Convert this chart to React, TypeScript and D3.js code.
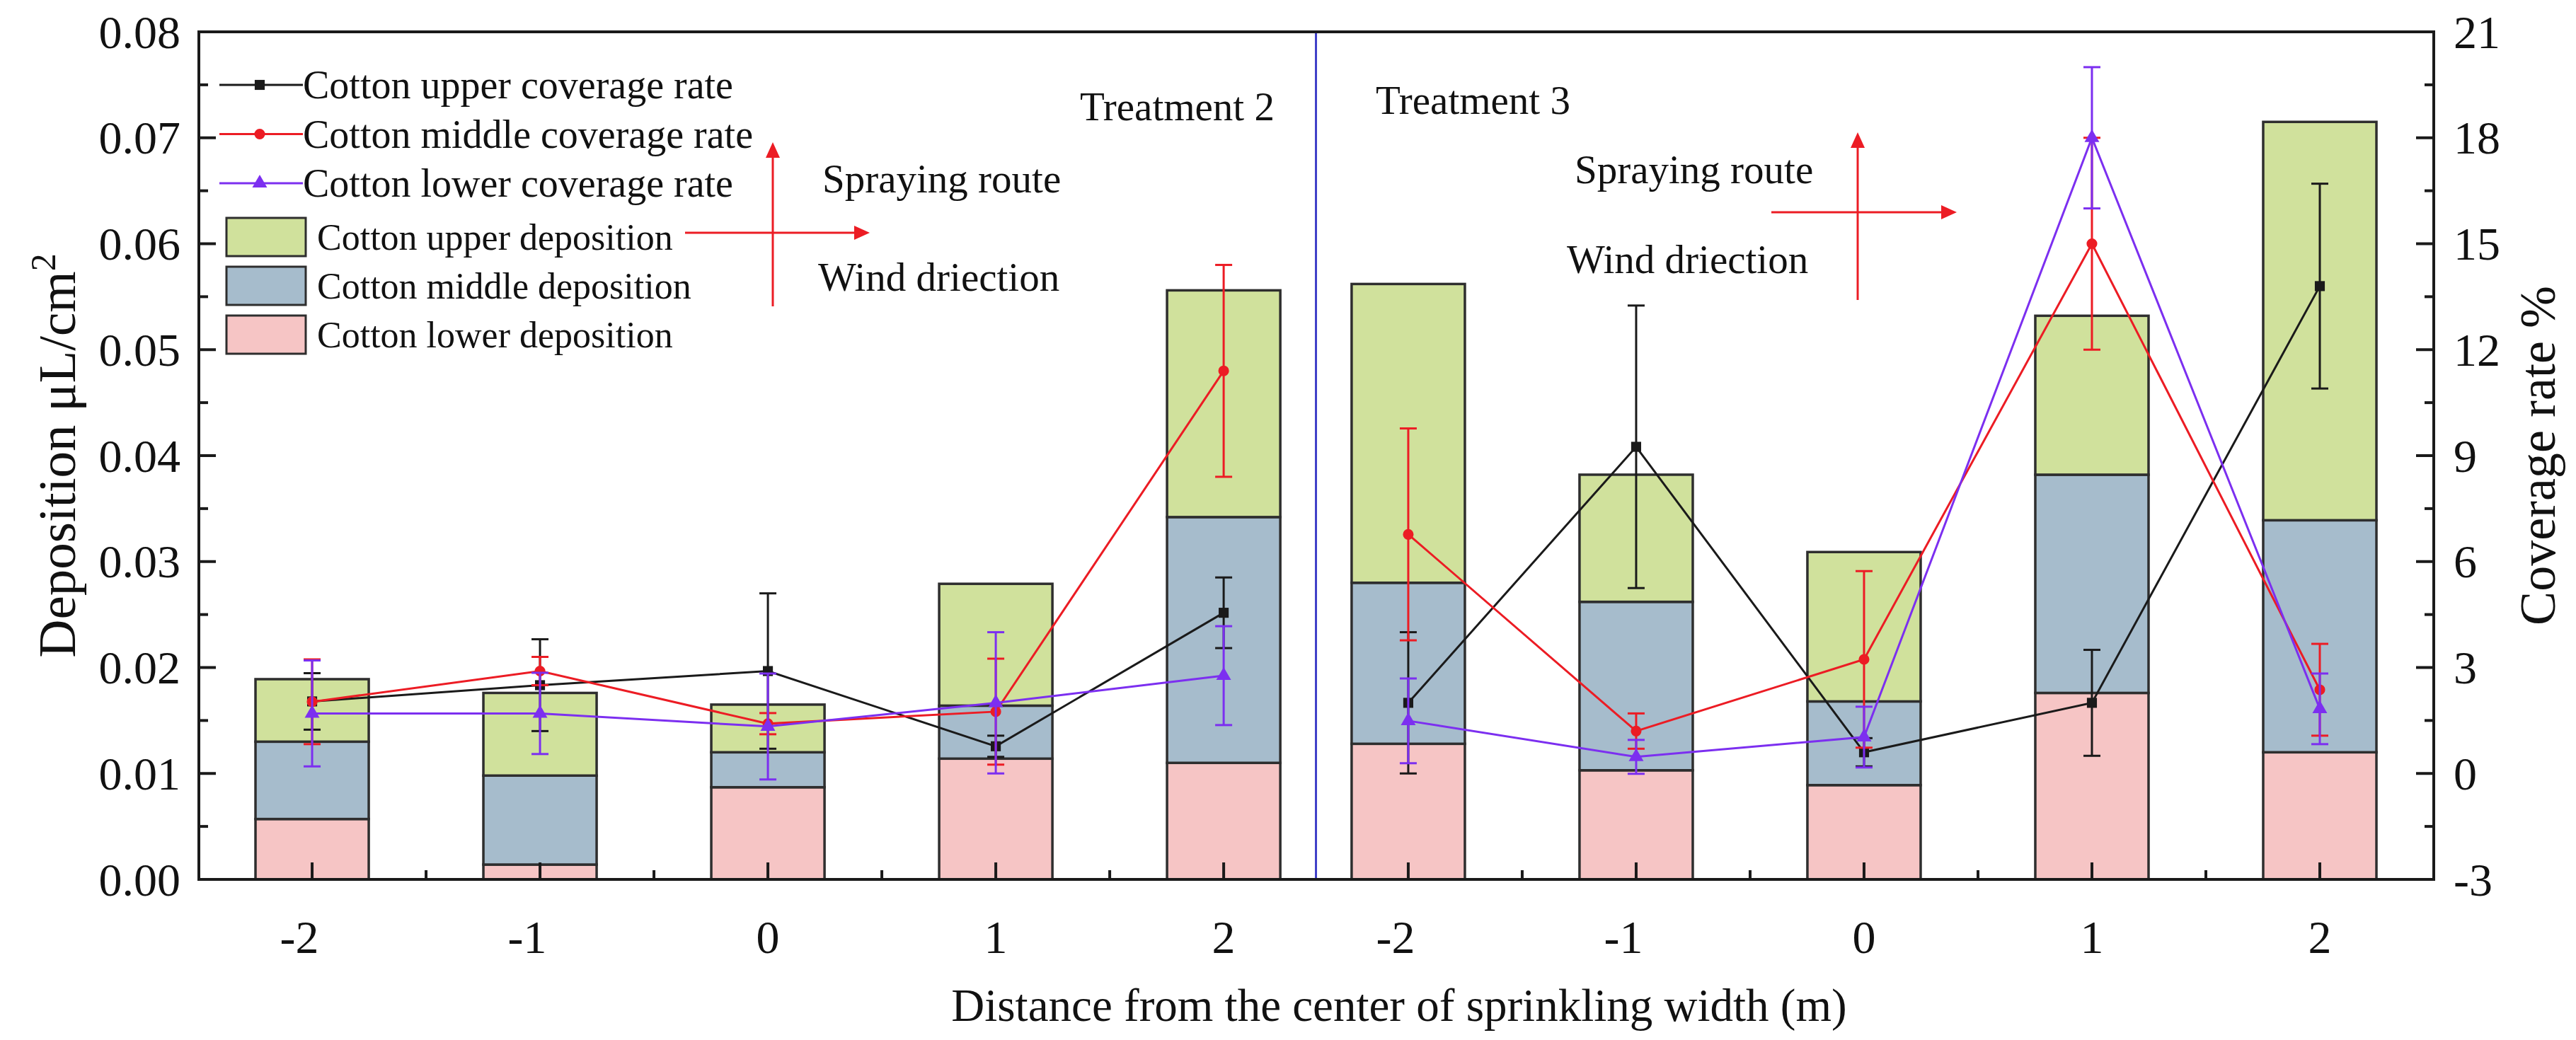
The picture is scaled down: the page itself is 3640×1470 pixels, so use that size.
import React from 'react';
import * as d3 from 'd3';

// ---------- data ----------
const categories = ['-2', '-1', '0', '1', '2'];
const treatments = ['Treatment 2', 'Treatment 3'];

// stacked deposition (µL/cm²), 10 bars: Treatment 2 (-2..2), Treatment 3 (-2..2)
const lowerDeposition = [0.0057, 0.0014, 0.0087, 0.0114, 0.011, 0.0128, 0.0103, 0.0089, 0.0176, 0.012];
const middleDeposition = [0.0073, 0.0084, 0.0033, 0.005, 0.0232, 0.0152, 0.0159, 0.0079, 0.0206, 0.0219];
const upperDeposition = [0.0059, 0.0078, 0.0045, 0.0115, 0.0214, 0.0282, 0.012, 0.0141, 0.015, 0.0376];

// coverage rate (%)
const upperCoverage = [2.04, 2.5, 2.9, 0.77, 4.55, 2.0, 9.25, 0.6, 2.0, 13.8];
const upperCoverageErr = [0.8, 1.3, 2.2, 0.3, 1.0, 2.0, 4.0, 0.4, 1.5, 2.9];
const middleCoverage = [2.03, 2.9, 1.41, 1.75, 11.4, 6.77, 1.2, 3.23, 15.0, 2.37];
const middleCoverageErr = [1.2, 0.4, 0.3, 1.5, 3.0, 3.0, 0.5, 2.5, 3.0, 1.3];
const lowerCoverage = [1.7, 1.7, 1.33, 2.0, 2.77, 1.49, 0.47, 1.03, 18.0, 1.83];
const lowerCoverageErr = [1.5, 1.15, 1.5, 2.0, 1.4, 1.2, 0.48, 0.86, 2.0, 1.0];

const leftTicks = [0, 0.01, 0.02, 0.03, 0.04, 0.05, 0.06, 0.07, 0.08];
const rightTicks = [-3, 0, 3, 6, 9, 12, 15, 18, 21];

const coverageLabels = ['Cotton upper coverage rate', 'Cotton middle coverage rate', 'Cotton lower coverage rate'];
const depositionLabels = ['Cotton upper deposition', 'Cotton middle deposition', 'Cotton lower deposition'];

// ---------- layout / style ----------
const W = 3640;
const H = 1470;
const L = 281, R = 3439, T = 45, B = 1243;
const FONT = '"Liberation Serif", "Times New Roman", serif';
const GROUP_STEP = 4.81;
const HALF = 0.497;

const C_UPPER = '#d0e19c';
const C_MIDDLE = '#a6bccc';
const C_LOWER = '#f6c5c5';
const C_BLACK = '#1a1a1a';
const C_RED = '#ec1c24';
const C_PURPLE = '#7c2ff0';
const C_BLUE = '#3f3fc8';

const n = lowerDeposition.length;
const pos = d3.range(n).map((i) => Math.floor(i / categories.length) * GROUP_STEP + (i % categories.length));
const x = d3.scaleLinear().domain([-HALF, GROUP_STEP + 4 + 0.5]).range([L, R]);
const yL = d3.scaleLinear().domain([0, 0.08]).range([B, T]);
const yR = d3.scaleLinear().domain([-3, 21]).range([B, T]);

const table = d3.range(n).map((i) => ({
  lower: lowerDeposition[i],
  middle: middleDeposition[i],
  upper: upperDeposition[i],
}));
const stacked = d3.stack<any>().keys(['lower', 'middle', 'upper'])(table);
const stackColors: Record<string, string> = { lower: C_LOWER, middle: C_MIDDLE, upper: C_UPPER };

const series = [
  { vals: upperCoverage, errs: upperCoverageErr, color: C_BLACK, marker: 'square' },
  { vals: middleCoverage, errs: middleCoverageErr, color: C_RED, marker: 'circle' },
  { vals: lowerCoverage, errs: lowerCoverageErr, color: C_PURPLE, marker: 'triangle' },
];

const sym: Record<string, any> = {
  square: d3.symbol().type(d3.symbolSquare).size(200),
  circle: d3.symbol().type(d3.symbolCircle).size(180),
  triangle: d3.symbol().type(d3.symbolTriangle).size(190),
};

function Arrow({ x1, y1, x2, y2 }: { x1: number; y1: number; x2: number; y2: number }) {
  const ang = Math.atan2(y2 - y1, x2 - x1);
  const len = 22, wid = 10;
  const bx = x2 - len * Math.cos(ang), by = y2 - len * Math.sin(ang);
  const px = -Math.sin(ang) * wid, py = Math.cos(ang) * wid;
  return (
    <g>
      <line x1={x1} y1={y1} x2={bx} y2={by} stroke={C_RED} strokeWidth={3} />
      <path d={`M${x2},${y2}L${bx + px},${by + py}L${bx - px},${by - py}Z`} fill={C_RED} />
    </g>
  );
}

export default function App() {
  const barW = x(HALF) - x(0);
  const groups = treatments.map((_, g) => d3.range(categories.length).map((k) => g * categories.length + k));
  const minorTicks: number[] = [];
  groups.forEach((idx) => {
    for (let k = 0; k < idx.length - 1; k++) minorTicks.push((pos[idx[k]] + pos[idx[k + 1]]) / 2);
  });
  const divider = (pos[categories.length - 1] + pos[categories.length]) / 2;
  const leftMinor = d3.range(0.005, 0.08, 0.01);
  const rightMinor = d3.range(-1.5, 21, 3);

  return (
    <svg width={W} height={H} style={{ position: 'absolute', left: 0, top: 0, background: '#fff' }} fontFamily={FONT}>
      <rect x={0} y={0} width={W} height={H} fill="#fff" />
      {/* bars */}
      {stacked.map((layer: any) => (
        <g key={layer.key}>
          {layer.map((d: any, i: number) => (
            <rect
              key={i}
              x={x(pos[i]) - barW / 2}
              y={yL(d[1])}
              width={barW}
              height={yL(d[0]) - yL(d[1])}
              fill={stackColors[layer.key]}
              stroke="#2e2e2e"
              strokeWidth={3.5}
            />
          ))}
        </g>
      ))}

      {/* divider */}
      <line x1={x(divider)} x2={x(divider)} y1={T} y2={B} stroke={C_BLUE} strokeWidth={3} />

      {/* coverage series */}
      {series.map((s, si) => (
        <g key={si}>
          {groups.map((idx, g) => (
            <path
              key={g}
              d={d3.line<number>().x((i) => x(pos[i])).y((i) => yR(s.vals[i]))(idx) || ''}
              fill="none"
              stroke={s.color}
              strokeWidth={3}
            />
          ))}
          {s.vals.map((v, i) => {
            const cx = x(pos[i]);
            const top = yR(v + s.errs[i]);
            const bot = yR(v - s.errs[i]);
            return (
              <g key={i} stroke={s.color} strokeWidth={3}>
                <line x1={cx} x2={cx} y1={top} y2={bot} />
                <line x1={cx - 12} x2={cx + 12} y1={top} y2={top} />
                <line x1={cx - 12} x2={cx + 12} y1={bot} y2={bot} />
              </g>
            );
          })}
          {s.vals.map((v, i) => (
            <path key={'m' + i} d={sym[s.marker]()} transform={`translate(${x(pos[i])},${yR(v)})`} fill={s.color} />
          ))}
        </g>
      ))}

      {/* frame */}
      <rect x={L} y={T} width={R - L} height={B - T} fill="none" stroke={C_BLACK} strokeWidth={4} />

      {/* left axis ticks */}
      {leftTicks.map((t) => (
        <g key={'l' + t}>
          <line x1={L} x2={L + 24} y1={yL(t)} y2={yL(t)} stroke={C_BLACK} strokeWidth={4} />
          <text x={255} y={yL(t)} textAnchor="end" dominantBaseline="central" fontSize={66} fill="#111">
            {t.toFixed(2)}
          </text>
        </g>
      ))}
      {leftMinor.map((t) => (
        <line key={'lm' + t} x1={L} x2={L + 13} y1={yL(t)} y2={yL(t)} stroke={C_BLACK} strokeWidth={4} />
      ))}

      {/* right axis ticks */}
      {rightTicks.map((t) => (
        <g key={'r' + t}>
          <line x1={R} x2={R - 25} y1={yR(t)} y2={yR(t)} stroke={C_BLACK} strokeWidth={4} />
          <text x={3467} y={yR(t)} textAnchor="start" dominantBaseline="central" fontSize={66} fill="#111">
            {t}
          </text>
        </g>
      ))}
      {rightMinor.map((t) => (
        <line key={'rm' + t} x1={R} x2={R - 13} y1={yR(t)} y2={yR(t)} stroke={C_BLACK} strokeWidth={4} />
      ))}

      {/* x axis ticks */}
      {pos.map((p, i) => {
        const lab = categories[i % categories.length];
        return (
          <g key={'x' + i}>
            <line x1={x(p)} x2={x(p)} y1={B} y2={B - 24} stroke={C_BLACK} strokeWidth={4} />
            <text x={x(p)} dx={lab.startsWith('-') ? -18 : 0} y={1347} textAnchor="middle" fontSize={66} fill="#111">
              {lab}
            </text>
          </g>
        );
      })}
      {minorTicks.map((p, i) => (
        <line key={'xm' + i} x1={x(p)} x2={x(p)} y1={B} y2={B - 13} stroke={C_BLACK} strokeWidth={4} />
      ))}

      {/* axis titles */}
      <text transform={`translate(106,${(T + B) / 2}) rotate(-90)`} textAnchor="middle" fontSize={75} fill="#111">
        Deposition μL/cm<tspan dy={-28} fontSize={50}>2</tspan>
      </text>
      <text transform={`translate(3610,${(T + B) / 2}) rotate(-90)`} textAnchor="middle" fontSize={72} fill="#111">
        Coverage rate %
      </text>
      <text x={1977} y={1443} textAnchor="middle" fontSize={65} fill="#111">
        Distance from the center of sprinkling width (m)
      </text>

      {/* legend */}
      {series.map((s, k) => {
        const cy = 120 + k * 69.5;
        return (
          <g key={'lg' + k}>
            <line x1={310} x2={428} y1={cy} y2={cy} stroke={s.color} strokeWidth={3} />
            <path d={sym[s.marker]()} transform={`translate(367,${cy})`} fill={s.color} />
            <text x={428} y={cy} dominantBaseline="central" fontSize={56} fill="#111">
              {coverageLabels[k]}
            </text>
          </g>
        );
      })}
      {[C_UPPER, C_MIDDLE, C_LOWER].map((c, k) => {
        const cy = 335 + k * 69;
        return (
          <g key={'ld' + k}>
            <rect x={320} y={cy - 27} width={112} height={54} fill={c} stroke="#2e2e2e" strokeWidth={3} />
            <text x={448} y={cy} dominantBaseline="central" fontSize={52} fill="#111">
              {depositionLabels[k]}
            </text>
          </g>
        );
      })}

      {/* annotations */}
      <text x={1526} y={170} fontSize={57} fill="#111">{treatments[0]}</text>
      <text x={1944} y={161} fontSize={57} fill="#111">{treatments[1]}</text>

      <Arrow x1={1092} y1={433} x2={1092} y2={201} />
      <Arrow x1={968} y1={329} x2={1229} y2={329} />
      <text x={1162} y={272} fontSize={57} fill="#111">Spraying route</text>
      <text x={1156} y={411} fontSize={57} fill="#111">Wind driection</text>

      <Arrow x1={2625} y1={424} x2={2625} y2={187} />
      <Arrow x1={2503} y1={300} x2={2765} y2={300} />
      <text x={2225} y={259} fontSize={57} fill="#111">Spraying route</text>
      <text x={2214} y={386} fontSize={57} fill="#111">Wind driection</text>
    </svg>
  );
}
